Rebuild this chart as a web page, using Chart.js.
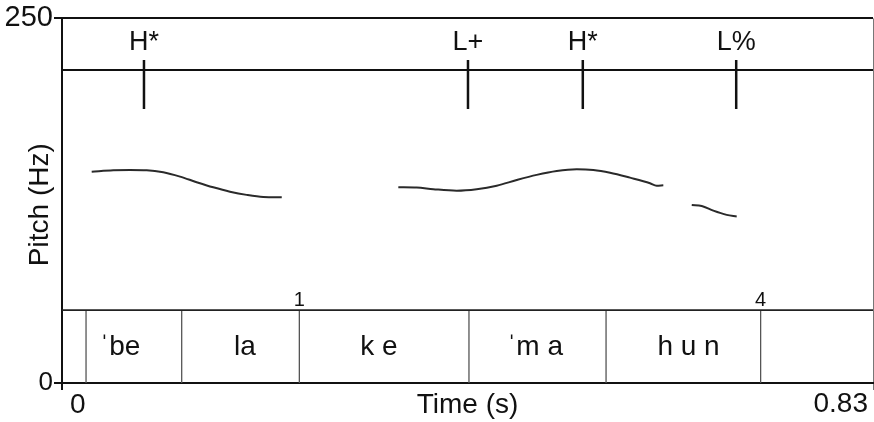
<!DOCTYPE html>
<html>
<head>
<meta charset="utf-8">
<script src="https://cdn.jsdelivr.net/npm/chart.js@4/dist/chart.umd.min.js"></script>
<style>
    html, body { margin: 0; padding: 0; background: #fff; }
</style>
</head>
<body>
<canvas id="pitchChart" width="874" height="422"></canvas>
<script>
// Pitch track (time in s, pitch in Hz)
const pitchTime1 = [0.0304, 0.0525, 0.0696, 0.0867, 0.1036, 0.1208, 0.1378, 0.1548, 0.1719, 0.1890, 0.2060, 0.2249];
const pitchHz1   = [144.9, 145.9, 146.1, 145.9, 144.5, 141.5, 137.7, 134.2, 131.2, 129.0, 127.6, 127.4];

const pitchTime2 = [0.3442, 0.3630, 0.3800, 0.4039, 0.4244, 0.4449, 0.4654, 0.4858, 0.5063, 0.5268, 0.5438, 0.5609, 0.5813, 0.6018, 0.6086, 0.6154];
const pitchHz2   = [134.2, 134.0, 132.9, 131.9, 132.9, 135.3, 139.2, 142.7, 145.4, 146.6, 146.1, 144.2, 140.8, 137.0, 135.3, 135.6];

const pitchTime3 = [0.6445, 0.6547, 0.6666, 0.6803, 0.6905];
const pitchHz3   = [122.1, 121.4, 118.2, 115.3, 114.1];

// Tone tier
const toneTimes  = [0.0839, 0.4155, 0.533, 0.690];
const toneLabels = ['H*', 'L+', 'H*', 'L%'];

// Word / syllable tier
const wordBounds     = [0.0246, 0.1225, 0.2429, 0.4165, 0.5568, 0.715];
const wordLabels     = ['ˈbe', 'la', 'k e', 'ˈm a', 'h u n'];
const wordLabelTimes = [0.0594, 0.1873, 0.3244, 0.4841, 0.6412];

// Break indices
const breakTimes  = [0.2429, 0.715];
const breakLabels = ['1', '4'];

// Axis ticks
const xTicks = [0, 0.83];
const xTickLabels = ['0', '0.83'];
const yTicks = [0, 250];

// Tier layout in Hz units
const toneTierHz = 214.6;
const toneTickTop = 221.4;
const toneTickBottom = 187.9;
const toneLabelHz = 228.3;
const wordTierHz = 50;
const wordLabelHz = 19.5;
const breakLabelHz = 53;

const FONT = '"Liberation Sans", Arial, sans-serif';
const INK = '#111';

function toPoints(times, values) {
    return times.map((t, i) => ({ x: t, y: values[i] }));
}

function verticals(times, top, bottom) {
    // null point breaks the line between segments
    return times.flatMap(t => [{ x: t, y: bottom }, { x: t, y: top }, { x: t, y: null }]);
}

function lineSet(data, color, width, smooth) {
    return {
        data: data,
        borderColor: color,
        borderWidth: width,
        pointRadius: 0,
        fill: false,
        cubicInterpolationMode: smooth ? 'monotone' : 'default',
        tension: 0,
        spanGaps: false
    };
}

const tierText = {
    id: 'tierText',
    afterDraw(chart) {
        const { ctx, chartArea } = chart;
        const x = chart.scales.x;
        const y = chart.scales.y;
        ctx.save();
        ctx.fillStyle = INK;
        ctx.textBaseline = 'alphabetic';
        ctx.textAlign = 'center';

        ctx.font = '27px ' + FONT;
        toneTimes.forEach((t, i) => {
            ctx.fillText(toneLabels[i], x.getPixelForValue(t), y.getPixelForValue(toneLabelHz));
        });

        ctx.font = '28px ' + FONT;
        wordLabelTimes.forEach((t, i) => {
            ctx.fillText(wordLabels[i], x.getPixelForValue(t), y.getPixelForValue(wordLabelHz));
        });

        ctx.font = '20px ' + FONT;
        breakTimes.forEach((t, i) => {
            ctx.fillText(breakLabels[i], x.getPixelForValue(t), y.getPixelForValue(breakLabelHz));
        });

        // x axis labels
        const base = chartArea.bottom + 30;
        ctx.font = '28px ' + FONT;
        ctx.textAlign = 'left';
        ctx.fillText(xTickLabels[0], x.getPixelForValue(xTicks[0]) + 8, base);
        ctx.textAlign = 'right';
        ctx.fillText(xTickLabels[1], x.getPixelForValue(xTicks[1]) - 5, base - 1);
        ctx.textAlign = 'center';
        ctx.fillText('Time (s)', (chartArea.left + chartArea.right) / 2, base);

        // y axis title
        ctx.translate(40, (chartArea.top + chartArea.bottom) / 2 + 4);
        ctx.rotate(-Math.PI / 2);
        ctx.textBaseline = 'middle';
        ctx.fillText('Pitch (Hz)', 0, 0);
        ctx.restore();
    }
};

const datasets = [
    lineSet(toPoints(pitchTime1, pitchHz1), '#2a2a2a', 2, true),
    lineSet(toPoints(pitchTime2, pitchHz2), '#2a2a2a', 2, true),
    lineSet(toPoints(pitchTime3, pitchHz3), '#2a2a2a', 2, true),
    lineSet([{ x: xTicks[0], y: toneTierHz }, { x: xTicks[1], y: toneTierHz }], INK, 2),
    lineSet(verticals(toneTimes, toneTickTop, toneTickBottom), INK, 2.5),
    lineSet([{ x: xTicks[0], y: wordTierHz }, { x: xTicks[1], y: wordTierHz }], '#222', 1.6),
    lineSet(verticals(wordBounds, wordTierHz, 0), '#555', 1.3)
];

new Chart(document.getElementById('pitchChart'), {
    type: 'line',
    data: { datasets: datasets },
    plugins: [tierText],
    options: {
        responsive: false,
        animation: false,
        events: [],
        layout: { padding: { top: 18, right: 1, left: 0, bottom: 0 } },
        plugins: {
            legend: { display: false },
            tooltip: { enabled: false }
        },
        scales: {
            x: {
                type: 'linear',
                min: xTicks[0],
                max: xTicks[1],
                afterBuildTicks: (scale) => { scale.ticks = xTicks.map(v => ({ value: v })); },
                afterFit: (scale) => { scale.height = 39; },
                ticks: { display: false },
                grid: {
                    drawOnChartArea: true,
                    drawTicks: true,
                    tickLength: 7,
                    color: (ctx) => (ctx.tick && ctx.tick.value === 0 ? INK : '#777'),
                    lineWidth: (ctx) => (ctx.tick && ctx.tick.value === 0 ? 2 : 1)
                },
                border: { display: true, color: INK, width: 2 }
            },
            y: {
                min: yTicks[0],
                max: yTicks[1],
                afterBuildTicks: (scale) => { scale.ticks = yTicks.map(v => ({ value: v })); },
                afterFit: (scale) => { scale.width = 62; },
                ticks: {
                    padding: 1,
                    color: INK,
                    font: (ctx) => ({
                        family: FONT,
                        size: ctx.tick && ctx.tick.value === 250 ? 29 : 26
                    })
                },
                grid: {
                    drawOnChartArea: true,
                    drawTicks: true,
                    tickLength: 8,
                    color: INK,
                    lineWidth: 2
                },
                border: { display: true, color: INK, width: 2 }
            }
        }
    }
});
</script>
</body>
</html>
